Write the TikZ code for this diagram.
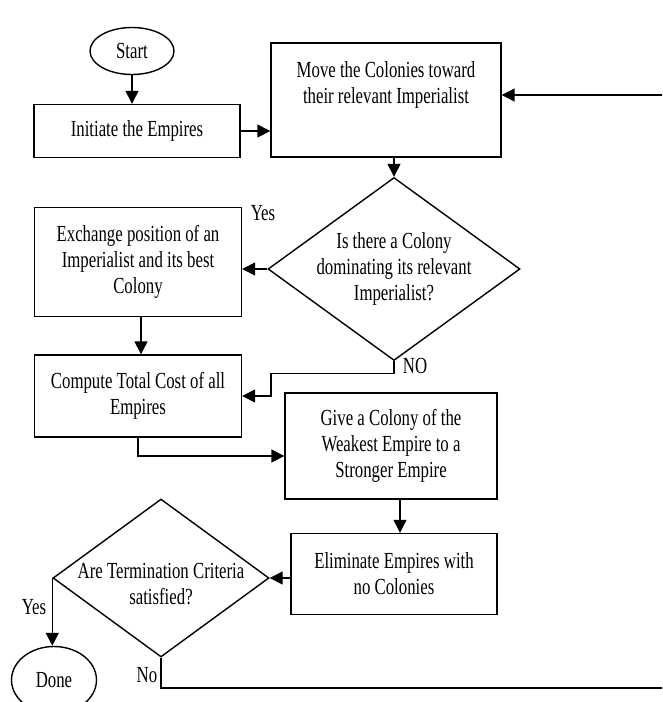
\documentclass[tikz,border=0pt]{standalone}
\usepackage{fontspec}
\setmainfont[FakeStretch = 0.73]{Liberation Serif}
\usetikzlibrary{shapes.geometric, arrows.meta}
\tikzstyle{terminal} = [ellipse, draw = black, line width = 1.4pt, inner sep = 0pt]
\tikzstyle{process} = [rectangle, draw = black, line width = 1.4pt, align = center, inner sep = 0pt]
\tikzstyle{decision} = [diamond, draw = black, line width = 1.4pt, inner sep = 0pt]
\tikzstyle{arrow} = [-{Triangle[length = 13pt, width = 13pt]}, line width = 1.4pt]

\begin{document}
\begin{tikzpicture}[x = 1pt, y = -1pt, font = \fontsize{23}{26}\selectfont]
\useasboundingbox (0,0) rectangle (662,702);
\clip (0,0) rectangle (662,702);

\node (start) [terminal, minimum width = 84, minimum height = 47] at (132,51) {Start};
\node (init) [process, minimum width = 206, minimum height = 53] at (137,131) {Initiate the Empires};
\node (move) [process, minimum width = 230, minimum height = 114, label = {[align = center, anchor = north, yshift = -16]north:Move the Colonies toward\\their relevant Imperialist}] at (386,100) {};
\node (dom) [decision, minimum width = 252, minimum height = 183, label = {[align = center]center:Is there a Colony\\dominating its relevant\\Imperialist?}] at (394,269) {};
\node (exch) [process, minimum width = 207, minimum height = 109] at (138,262) {Exchange position of an\\Imperialist and its best\\Colony};
\node (cost) [process, minimum width = 207, minimum height = 82] at (138,396) {Compute Total Cost of all\\Empires};
\node (give) [process, minimum width = 212, minimum height = 106] at (391,446) {Give a Colony of the\\Weakest Empire to a\\Stronger Empire};
\node (elim) [process, minimum width = 206, minimum height = 81] at (394,574) {Eliminate Empires with\\no Colonies};
\node (term) [decision, minimum width = 216, minimum height = 158, label = {[align = center, yshift = -6]center:Are Termination Criteria\\satisfied?}] at (161,578) {};
\node (done) [terminal, minimum width = 85, minimum height = 67] at (54,680) {Done};

\node (yesDom) at (263,213) {Yes};
\node (noDom) at (415,366) {NO};
\node (yesTerm) at (34,607) {Yes};
\node (noTerm) at (147,675) {No};
\coordinate (loopBack) at (700,688);

\draw [arrow] (start) -- (start |- init.north);
\draw [arrow] (init.east) -- (init.east -| move.west);
\draw [arrow] (dom.north |- move.south) -- (dom.north);
\draw [arrow] (dom.west) -- (dom.west -| exch.east);
\draw [arrow] ([xshift = 3]exch.south) -- ([xshift = 3]cost.north);
\draw [arrow] (dom.south) |- ++(-123,12) |- (cost.east);
\draw [arrow] (cost.south) |- ([yshift = -10]give.west);
\draw [arrow] ([xshift = 9]give.south) -- ([xshift = 9]give.south |- elim.north);
\draw [arrow] (elim.west |- term.east) -- (term.east);
\draw [arrow] (term.west) -- (term.west |- done.north);
\draw [arrow] (term.south) |- (loopBack) |- ([yshift = 5]move.east);
\end{tikzpicture}
\end{document}
